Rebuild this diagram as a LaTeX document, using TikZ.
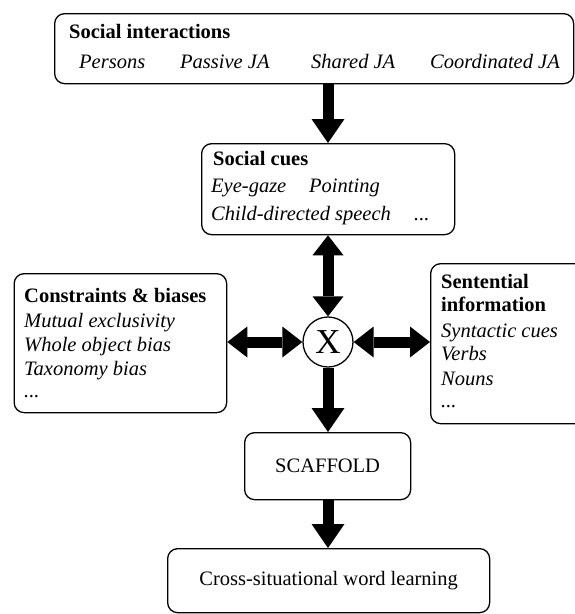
\documentclass[tikz,border=0pt]{standalone}
\usepackage{fontspec}
\setmainfont{Liberation Serif}
\usetikzlibrary{arrows.meta}
\begin{document}
\begin{tikzpicture}[x=1pt,y=-1pt,
  box/.style={draw,line width=1.3pt,rounded corners=10pt,inner sep=0pt,anchor=north west},
  lbl/.style={anchor=base west,inner sep=0pt,font=\fontsize{20.5}{24}\selectfont},
  ttl/.style={lbl,font=\fontsize{20.5}{24}\selectfont\bfseries},
  itl/.style={lbl,font=\fontsize{20.5}{24}\selectfont\itshape},
  big/.style={line width=11pt,-{Triangle[length=24pt,width=33pt,line width=0pt]}},
  dbl/.style={line width=11pt,{Triangle[length=20pt,width=31pt,line width=0pt]}-{Triangle[length=20pt,width=31pt,line width=0pt]}}]
\useasboundingbox (0,0) rectangle (574,614);
% boxes
\node[box,minimum width=519pt,minimum height=70pt] (top) at (54,13) {};
\node[box,minimum width=253pt,minimum height=91pt] (cues) at (201,143) {};
\node[box,minimum width=212.5pt,minimum height=139pt] (cons) at (13.5,273) {};
\node[box,minimum width=170pt,minimum height=160pt] (sent) at (430,263) {};
\node[box,minimum width=166pt,minimum height=67pt,font=\fontsize{20.5}{24}\selectfont] (scaf) at (244,432) {SCAFFOLD};
\node[box,minimum width=322pt,minimum height=64pt,font=\fontsize{20.5}{24}\selectfont] (bot) at (167,548) {Cross-situational word learning};
\node[circle,draw,line width=1.3pt,minimum size=50pt,inner sep=0pt,font=\fontsize{35}{35}\selectfont] (X) at (328,342) {X};
% texts
\node[ttl] (t1) at (69,38) {Social interactions};
\node[itl] (t2) at (79,68) {Persons};
\node[itl] (t3) at (180,68) {Passive JA};
\node[itl] (t4) at (311,68) {Shared JA};
\node[itl] (t5) at (430,68) {Coordinated JA};
\node[ttl] (c1) at (213,165) {Social cues};
\node[itl] (c2) at (211,192) {Eye-gaze};
\node[itl] (c3) at (309,192) {Pointing};
\node[itl] (c4) at (211,220) {Child-directed speech};
\node[itl] (c5) at (414,220) {...};
\node[ttl] (b1) at (24,302) {Constraints \& biases};
\node[itl] (b2) at (24,327) {Mutual exclusivity};
\node[itl] (b3) at (24,351) {Whole object bias};
\node[itl] (b4) at (24,375) {Taxonomy bias};
\node[itl] (b5) at (24,397) {...};
\node[ttl] (s1) at (441,288) {Sentential};
\node[ttl] (s2) at (441,311.5) {information};
\node[itl] (s3) at (441,337) {Syntactic cues};
\node[itl] (s4) at (441,360) {Verbs};
\node[itl] (s5) at (441,385) {Nouns};
\node[itl] (s6) at (441,407) {...};
% connectors
\draw[big] (top.south -| X) -- (cues.north -| X);
\draw[dbl] (cues.south -| X) -- (X.north);
\draw[dbl] (cons.east |- X) -- (X.west);
\draw[dbl] (X.east) -- (sent.west |- X);
\draw[big] (X.south) -- (scaf.north -| X);
\draw[big] (scaf.south -| X) -- (bot.north -| X);
\end{tikzpicture}
\end{document}
